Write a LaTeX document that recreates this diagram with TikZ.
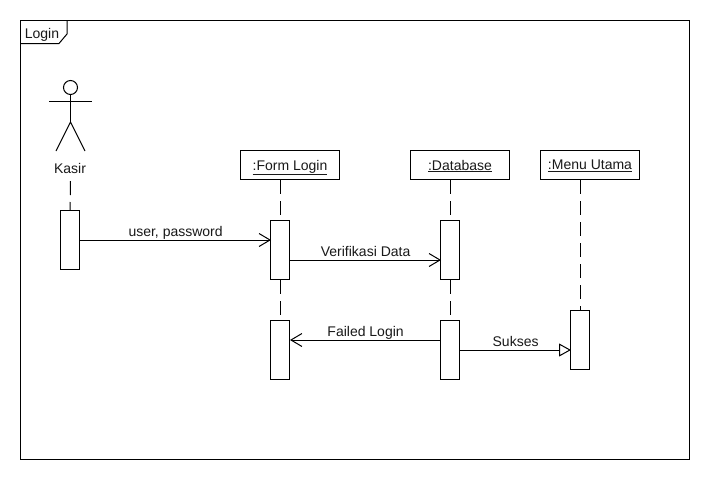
\documentclass[tikz,border=0pt]{standalone}
\usepackage{fontspec}
\setmainfont{Liberation Sans}
\usetikzlibrary{arrows.meta,positioning,calc}
\tikzset{
  every node/.style={font=\fontsize{14}{16}\selectfont, inner sep=0pt, text=black!90},
  obj/.style={draw=black, line width=1pt, fill=white, minimum width=99pt, minimum height=29pt, text depth=0pt},
  act/.style={draw=black, line width=1pt, fill=white, minimum width=19pt, minimum height=59pt},
  life/.style={draw=black, line width=1pt, dash pattern=on 14pt off 7pt},
  msg/.style={draw=black, line width=1pt, -{Straight Barb[length=11pt,width=13pt,line width=1pt]}},
  gen/.style={draw=black, line width=1pt, shorten >=-1pt, -{Triangle[open,length=12pt,width=13pt,line width=1pt,fill=white]}},
  shapeline/.style={draw=black, line width=1pt},
  lab/.style={anchor=base},
  msglab/.style={above=3pt, xshift=0.6pt, text depth=0pt}
}
\begin{document}
\begin{tikzpicture}[x=1pt,y=-1pt]
\useasboundingbox (0,0) rectangle (710,480);
\fill[white] (0,0) rectangle (710,480);
% frame
\draw[shapeline] (20.5,20.5) rectangle (689.5,459.5);
\draw[shapeline] (20.5,43.5) -- (59,43.5) -- (67,34) -- (67,20.5);
\node[lab] (title) at (42,38) {Login};
% actor
\node[draw=black, line width=1pt, circle, minimum size=14pt] (head) at (70.5,87.5) {};
\coordinate (hip) at (70.5,122);
\coordinate (armL) at (49,101);
\coordinate (armR) at (92,101);
\coordinate (legL) at (56,151);
\coordinate (legR) at (85,151);
\draw[shapeline] (head.south) -- (hip);
\draw[shapeline] (armL) -- (armR);
\draw[shapeline] (legL) -- (hip) -- (legR);
\node[lab] (kasir) at (70,173) {Kasir};
% objects
\node[obj] (form) at (290,165) {\underline{:Form Login}};
\node[obj] (db) at (460,165) {\underline{:Database}};
\node[obj] (menu) at (590,165) {\underline{:Menu Utama}};
% activations
\node[act] (ka) at (70,240) {};
\node[act] (f1) at (280,250) {};
\node[act] (f2) at (280,350) {};
\node[act] (d1) at (450,250) {};
\node[act] (d2) at (450,350) {};
\node[act] (m1) at (580,340) {};
% lifelines
\coordinate (k0) at (70.5,181);
\draw[life] (k0) -- (ka.north);
\draw[life] (f1.north |- form.south) -- (f1.north);
\draw[life] (f1.south) -- (f2.north);
\draw[life] (d1.north |- db.south) -- (d1.north);
\draw[life] (d1.south) -- (d2.north);
\draw[life] (m1.north |- menu.south) -- (m1.north);
% messages
\draw[msg, shorten >=-1pt] (ka.east) -- (f1.west |- ka.east) node[midway, msglab] (m-a) {user, password};
\draw[msg, shorten >=-1pt] ([yshift=-10pt]f1.east) -- ([yshift=-10pt]d1.west) node[midway, msglab] (m-b) {Verifikasi Data};
\draw[msg] ([yshift=10pt]d2.west) -- ([yshift=10pt]f2.east) node[midway, msglab] (m-c) {Failed Login};
\draw[gen] (d2.east) -- (m1.west |- d2.east) node[midway, msglab] (m-d) {Sukses};
\end{tikzpicture}
\end{document}
